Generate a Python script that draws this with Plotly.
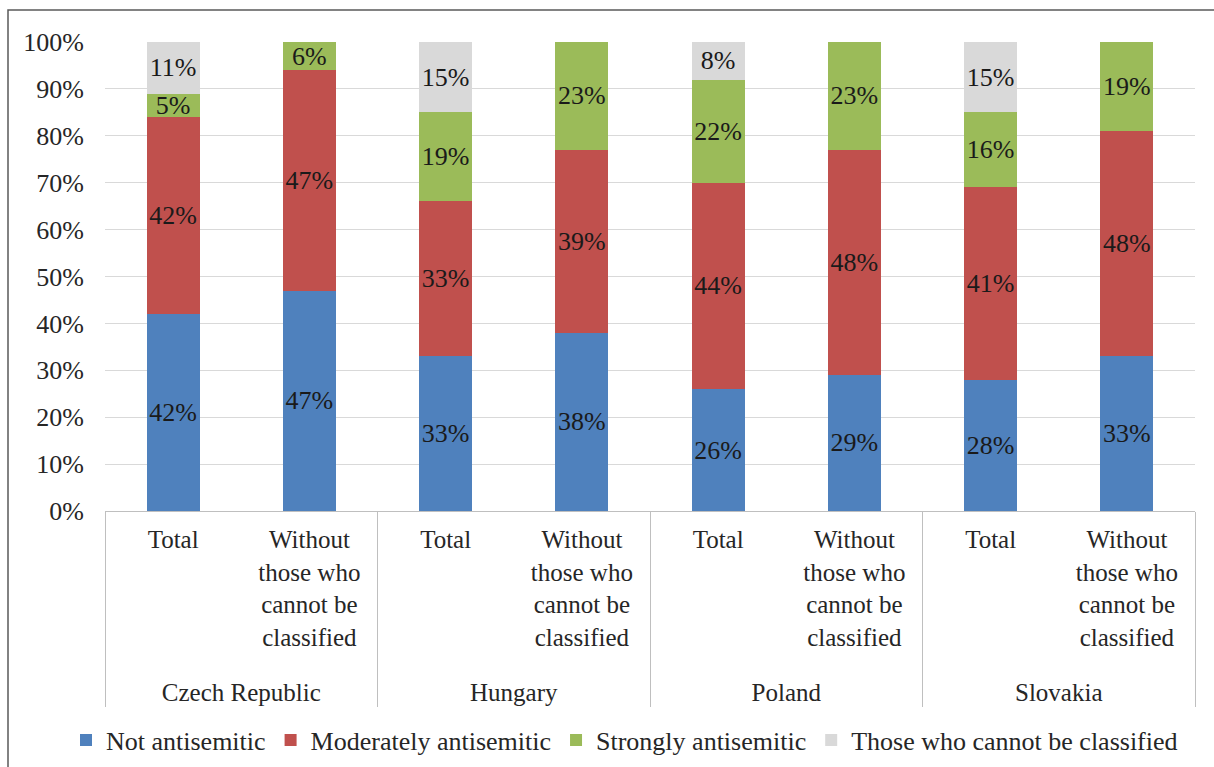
import plotly.graph_objects as go

countries = ["Czech Republic", "Czech Republic", "Hungary", "Hungary",
             "Poland", "Poland", "Slovakia", "Slovakia"]
WITHOUT = "Without<br>those who<br>cannot be<br>classified<br>\u00a0"
subgroups = ["Total", WITHOUT, "Total", WITHOUT, "Total", WITHOUT, "Total", WITHOUT]

not_anti = [42, 47, 33, 38, 26, 29, 28, 33]
moderate = [42, 47, 33, 39, 44, 48, 41, 48]
strong = [5, 6, 19, 23, 22, 23, 16, 19]
unclassified = [11, None, 15, None, 8, None, 15, None]

series = [
    ("Not antisemitic", not_anti, "#4F81BD"),
    ("Moderately antisemitic", moderate, "#C0504D"),
    ("Strongly antisemitic", strong, "#9BBB59"),
    ("Those who cannot be classified", unclassified, "#D9D9D9"),
]

yticks = list(range(0, 101, 10))

FONT = "Liberation Serif"
FS = 26
TXT = "#262626"

fig = go.Figure()
for name, vals, color in series:
    fig.add_trace(go.Bar(
        name=name,
        x=[countries, subgroups],
        y=vals,
        marker=dict(color=color, line=dict(width=0)),
        text=[f"{v}%" if v is not None else "" for v in vals],
        textposition="inside",
        insidetextanchor="middle",
        textangle=0,
        textfont=dict(family=FONT, size=FS, color="#1a1a1a"),
        cliponaxis=False,
    ))

L, R, T, B = 105, 1195, 42, 511
W, H = 1214, 767
pw, ph = R - L, B - T

def px_x(x):
    return (x - L) / pw

def px_y(y):
    return (B - y) / ph

fig.update_layout(
    width=W, height=H,
    barmode="stack",
    bargap=0.61,
    plot_bgcolor="white",
    paper_bgcolor="white",
    margin=dict(l=L, r=W - R, t=T, b=H - B, pad=0, autoexpand=False),
    font=dict(family=FONT, size=FS, color=TXT),
    uniformtext=dict(minsize=FS, mode="show"),
    showlegend=True,
    legend=dict(
        orientation="h",
        traceorder="normal",
        x=px_x(66), xanchor="left",
        y=px_y(740), yanchor="middle",
        font=dict(family=FONT, size=26, color=TXT),
        itemwidth=30,
        tracegroupgap=0,
        bgcolor="rgba(0,0,0,0)",
    ),
    shapes=[dict(
        type="rect", xref="paper", yref="paper",
        x0=px_x(8), x1=px_x(1230), y0=px_y(780), y1=px_y(10),
        line=dict(color="#595959", width=1.5),
        fillcolor="rgba(0,0,0,0)",
        layer="below",
    )],
)

fig.update_yaxes(
    range=[0, 100],
    tickvals=yticks,
    ticktext=[f"{v}%" for v in yticks],
    showgrid=True,
    gridcolor="#D9D9D9",
    gridwidth=1,
    zeroline=False,
    showline=False,
    ticks="",
    ticklabelstandoff=20,
    automargin=False,
    tickfont=dict(family=FONT, size=FS, color=TXT),
)

fig.update_xaxes(
    type="multicategory",
    range=[-0.5, 7.5],
    showline=True,
    linecolor="#BFBFBF",
    linewidth=1,
    showdividers=True,
    dividercolor="#BFBFBF",
    dividerwidth=1,
    ticks="",
    ticklabelstandoff=6,
    automargin=False,
    tickfont=dict(family=FONT, size=25, color=TXT),
    showgrid=False,
)

fig.write_html("out.html")
